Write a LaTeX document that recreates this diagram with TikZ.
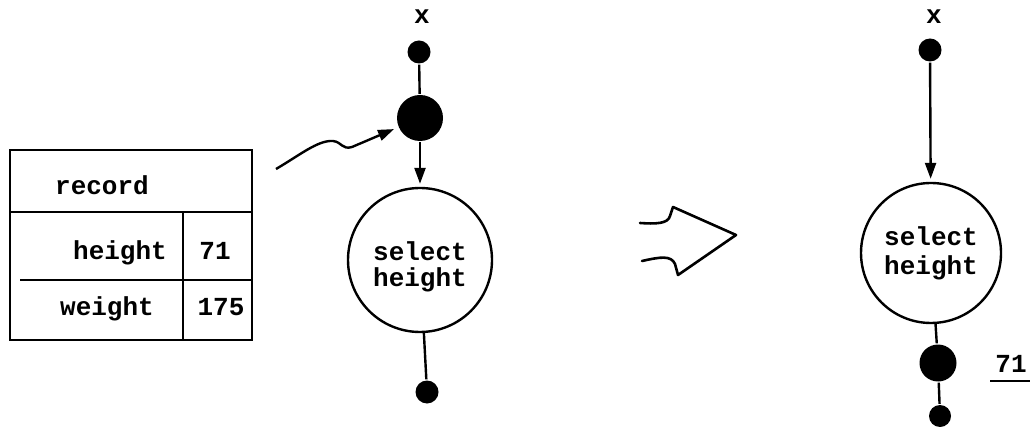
\documentclass[tikz,border=0pt]{standalone}
\usepackage{fontspec}
\setmonofont{Liberation Mono}
\usetikzlibrary{arrows.meta}
\begin{document}
\begin{tikzpicture}[x=1pt,y=-1pt,line width=2.4pt,
  txt/.style={font=\ttfamily\bfseries\fontsize{26}{29}\selectfont,inner sep=0pt},
  smalldot/.style={circle,fill=black,inner sep=0pt,minimum size=23pt},
  bigdot/.style={circle,fill=black,inner sep=0pt,minimum size=#1},
  proc/.style={circle,draw,line width=2.4pt,inner sep=0pt,minimum size=#1,align=center,
    font=\ttfamily\bfseries\fontsize{26}{29}\selectfont},
  arr/.style={-{Triangle[length=16pt,width=11pt]}}]
\useasboundingbox (0,0) rectangle (1032,427);

% record table
\draw (10,150) rectangle (252,340);
\draw (10,212) -- (252,212);
\draw (20,280) -- (252,280);
\draw (183,212) -- (183,340);
\node[txt,anchor=base] (rec) at (102,195) {record};
\node[txt,anchor=base east] (hgt) at (168,260) {height};
\node[txt,anchor=base] (v71) at (215,260) {71};
\node[txt,anchor=base east] (wgt) at (155,315) {weight};
\node[txt,anchor=base] (v175) at (221,315) {175};

% left graph
\node[txt] (x1) at (422,17) {x};
\node[smalldot] (top1) at (419,52) {};
\node[bigdot=46pt] (big1) at (420,118) {};
\node[proc=144pt] (proc1) at (420,260) {\raisebox{-14pt}[0pt][0pt]{\begin{tabular}{@{}c@{}}select\\[-3pt]height\end{tabular}}};
\node[smalldot] (bot1) at (427,392) {};
\draw (top1) -- (big1);
\draw[arr,shorten >=3pt] (big1) -- (proc1);
\draw (proc1) -- (bot1);
\coordinate (wstart) at (276,169);
\draw[arr,shorten >=4pt] (wstart) .. controls (300,155) and (318,140) .. (333,141)
  .. controls (342,142) and (342,150) .. (352,147) -- (big1);

% transformation arrow
\draw[line width=2.6pt,line join=round,line cap=round]
  (640,223) .. controls (655,224) and (668,224) .. (670,216) -- (673,207)
  -- (736,235) -- (678,275) -- (675,264)
  .. controls (671,255) and (660,257) .. (642,261);

% right graph
\node[txt] (x2) at (934,17) {x};
\node[smalldot] (top2) at (930,50) {};
\node[proc=140pt] (proc2) at (931,253) {select\\height};
\node[bigdot=37pt] (big2) at (938,363) {};
\node[smalldot,minimum size=22pt] (bot2) at (940,416) {};
\draw[arr,shorten >=3pt] (top2) -- (proc2);
\draw (proc2) -- (big2);
\draw (big2) -- (bot2);
\node[txt,anchor=base] (r71) at (1011,372) {71};
\draw (990,381) -- (1030,381);
\end{tikzpicture}
\end{document}
